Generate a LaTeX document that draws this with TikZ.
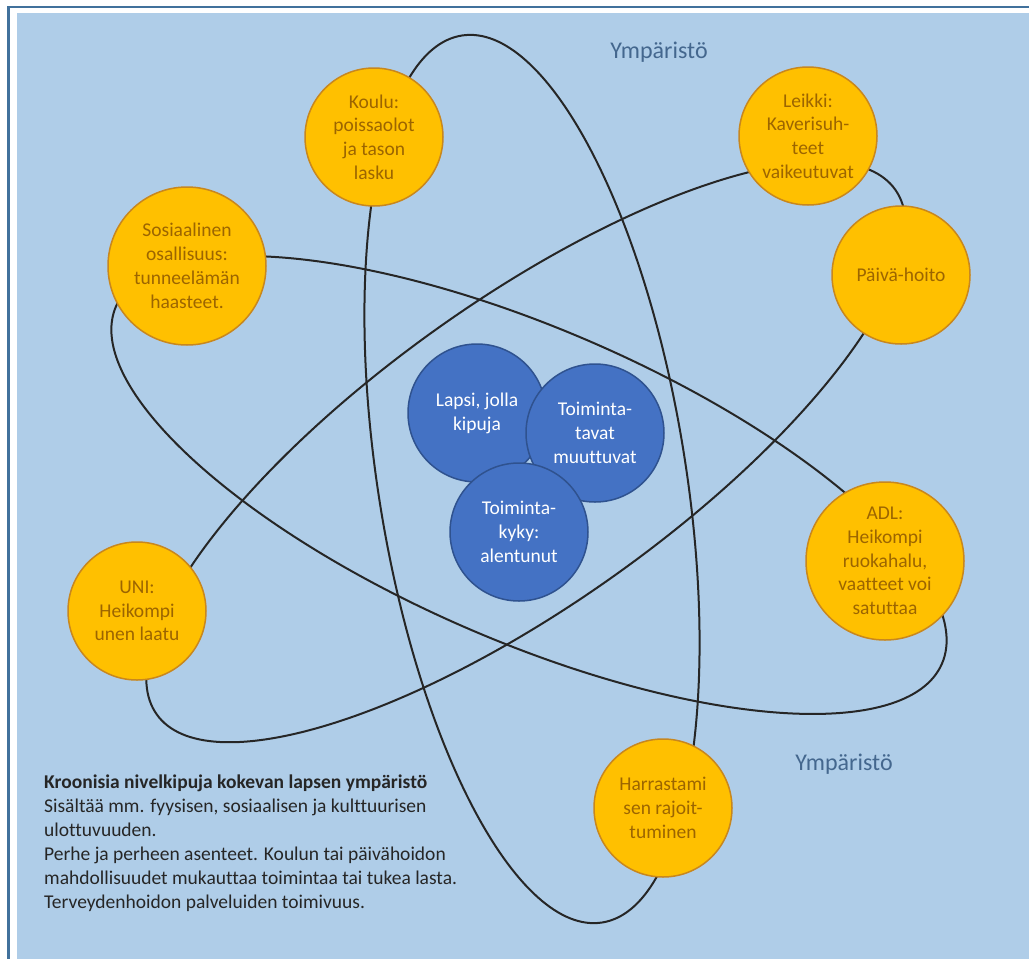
\documentclass[tikz,border=0pt]{standalone}
\usepackage{fontspec}
\setmainfont{Carlito}[Ligatures={NoCommon}]
\definecolor{bgblue}{RGB}{175,205,232}
\definecolor{framec}{RGB}{65,113,156}
\definecolor{orangef}{RGB}{255,192,0}
\definecolor{oranged}{RGB}{200,135,30}
\definecolor{orangetxt}{RGB}{156,101,0}
\definecolor{bluef}{RGB}{68,114,196}
\definecolor{blued}{RGB}{47,82,143}
\definecolor{envtxt}{RGB}{68,103,142}
\definecolor{darktxt}{RGB}{38,38,38}
\begin{document}
\begin{tikzpicture}[x=1pt,y=-1pt,
  ocirc/.style={circle, fill=orangef, draw=oranged, line width=1.5pt, text=orangetxt, align=center,
    font=\fontsize{19.5}{23.8}\selectfont, inner sep=0pt, minimum size=138pt},
  bigcirc/.style={minimum size=158pt},
  bcirc/.style={circle, fill=bluef, draw=blued, line width=1.5pt, text=white, align=center,
    font=\fontsize{19.5}{23.8}\selectfont, inner sep=0pt, minimum size=138pt},
  orbit/.style={draw=black!85, line width=2pt},
  envlabel/.style={text=envtxt, font=\fontsize{24}{29}\selectfont, inner sep=0pt}
]
\useasboundingbox (0,0) rectangle (1029,959);
\clip (0,0) rectangle (1029,959);
\fill[white] (0,0) rectangle (1029,959);
\draw[framec, line width=2.5pt] (8.7,7) rectangle (1100,1100);
\fill[bgblue] (16.7,13.3) rectangle (1100,1100);

% orbits
\coordinate (ca) at (532,479);
\coordinate (cb) at (529,485);
\coordinate (cc) at (526,452);
\draw[orbit, rotate around={99:(ca)}] (ca) ellipse [x radius=449pt, y radius=154pt];
\draw[orbit, rotate around={-23.4:(cb)}] (cb) ellipse [x radius=450pt, y radius=156pt];
\draw[orbit, rotate around={35.4:(cc)}] (cc) ellipse [x radius=453pt, y radius=152pt];

% outer circles
\node[ocirc] (koulu) at (374,137) {Koulu:\\poissaolot\\ja tason\\lasku};
\node[ocirc, bigcirc] (sos) at (187,266) {Sosiaalinen\\osallisuus:\\tunneelämän\\haasteet.};
\node[ocirc] (leikki) at (808,136) {Leikki:\\Kaverisuh-\\teet\\vaikeutuvat};
\node[ocirc] (paiva) at (901,275) {Päivä-hoito};
\node[ocirc, bigcirc] (adl) at (885,561) {ADL:\\Heikompi\\ruokahalu,\\vaatteet voi\\satuttaa};
\node[ocirc] (uni) at (137,611) {UNI:\\Heikompi\\unen laatu};
\node[ocirc] (harr) at (663,808) {Harrastami\\sen rajoit-\\tuminen};

% inner circles
\node[bcirc] (lapsi) at (477,413) {Lapsi, jolla\\kipuja};
\node[bcirc] (tavat) at (595,433) {Toiminta-\\tavat\\muuttuvat};
\node[bcirc] (kyky) at (519,532) {Toiminta-\\kyky:\\alentunut};

% labels
\node[envlabel] (env1) at (659,52) {Ympäristö};
\node[envlabel] (env2) at (844,764) {Ympäristö};

\node[anchor=north west, align=left, inner sep=0pt, text=darktxt,
  font=\fontsize{19.5}{24}\selectfont] (desc) at (44,775)
  {\textbf{Kroonisia nivelkipuja kokevan lapsen ympäristö}\\
   Sisältää mm. fyysisen, sosiaalisen ja kulttuurisen\\
   ulottuvuuden.\\
   Perhe ja perheen asenteet. Koulun tai päivähoidon\\
   mahdollisuudet mukauttaa toimintaa tai tukea lasta.\\
   Terveydenhoidon palveluiden toimivuus.};
\end{tikzpicture}
\end{document}
